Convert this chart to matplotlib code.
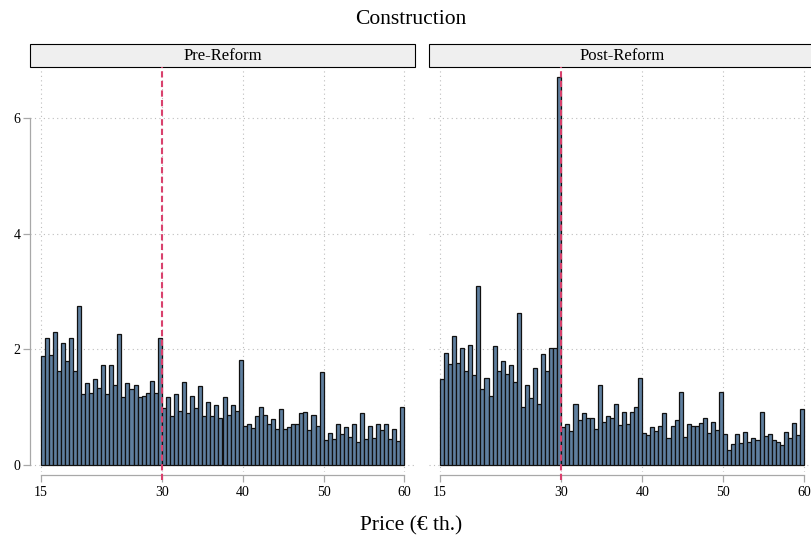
import numpy as np
import matplotlib
matplotlib.use("Agg")
import matplotlib.pyplot as plt
from matplotlib.patches import Rectangle

# bins of 0.5 from 15 to 60
bin_start = 15
bin_width = 0.5

pre = [1.88, 2.19, 1.90, 2.30, 1.62, 2.10, 1.80, 2.19, 1.62, 2.74,
       1.23, 1.41, 1.25, 1.48, 1.33, 1.72, 1.23, 1.72, 1.39, 2.26,
       1.17, 1.41, 1.31, 1.39, 1.17, 1.20, 1.25, 1.46, 1.25, 2.19,
       0.99, 1.18, 0.85, 1.22, 0.94, 1.44, 0.89, 1.20, 0.99, 1.37,
       0.84, 1.08, 0.84, 1.04, 0.82, 1.17, 0.86, 1.03, 0.94, 1.81,
       0.68, 0.71, 0.64, 0.85, 1.01, 0.86, 0.71, 0.80, 0.63, 0.97,
       0.63, 0.66, 0.71, 0.71, 0.89, 0.92, 0.60, 0.87, 0.68, 1.60,
       0.43, 0.56, 0.45, 0.70, 0.54, 0.66, 0.48, 0.70, 0.39, 0.90,
       0.45, 0.68, 0.47, 0.71, 0.61, 0.71, 0.45, 0.63, 0.41, 1.01]

post = [1.48, 1.94, 1.74, 2.23, 1.77, 2.03, 1.62, 2.08, 1.55, 3.10,
        1.32, 1.50, 1.19, 2.05, 1.62, 1.79, 1.58, 1.72, 1.43, 2.63,
        1.01, 1.39, 1.15, 1.67, 1.06, 1.92, 1.62, 2.03, 2.03, 6.70,
        0.66, 0.70, 0.58, 1.05, 0.78, 0.89, 0.81, 0.82, 0.63, 1.39,
        0.74, 0.84, 0.82, 1.05, 0.69, 0.92, 0.70, 0.92, 1.01, 1.50,
        0.56, 0.52, 0.65, 0.58, 0.67, 0.89, 0.47, 0.67, 0.77, 1.26,
        0.48, 0.70, 0.67, 0.67, 0.73, 0.82, 0.55, 0.75, 0.60, 1.26,
        0.54, 0.26, 0.36, 0.54, 0.38, 0.57, 0.40, 0.46, 0.44, 0.92,
        0.50, 0.54, 0.43, 0.39, 0.35, 0.57, 0.46, 0.73, 0.52, 0.96]

panels = ["Pre-Reform", "Post-Reform"]
xticks = [15, 30, 40, 50, 60]
yticks = [0, 2, 4, 6]
cutoff = 30

plt.rcParams['font.family'] = ['Liberation Serif', 'DejaVu Serif']

W, H = 812, 536
fig = plt.figure(figsize=(W / 100, H / 100), dpi=100)

top_px, bot_px = 67, 471.9
ax_h = (bot_px - top_px) / H
ax_b = (H - bot_px) / H
lefts = [30, 429.5]
ax_w = 385 / W

for k, (name, vals) in enumerate(zip(panels, [pre, post])):
    ax = fig.add_axes([lefts[k] / W, ax_b, ax_w, ax_h])
    edges = bin_start + bin_width * np.arange(len(vals))
    ax.bar(edges, vals, width=bin_width, align='edge',
           color='#5f7f9f', edgecolor='#111111', linewidth=0.9, zorder=2)
    ax.axvline(cutoff, ymin=-0.02, ymax=1, color='#d9416d', lw=1.5,
               linestyle=(0, (3, 1.6)), clip_on=False, zorder=3)
    ax.set_xlim(13.7, 61.3)
    ax.set_ylim(-0.12, 6.88)
    ax.set_xticks(xticks)
    ax.set_yticks(yticks)
    ax.grid(True, linestyle=(0, (1, 3)), color='#bdbdbd', linewidth=0.8)
    ax.set_axisbelow(True)
    for s in ['top', 'right']:
        ax.spines[s].set_visible(False)
    ax.spines['bottom'].set_position(('outward', 2.3))
    ax.spines['bottom'].set_bounds(15, 60)
    ax.spines['bottom'].set_color('#a8a8a8')
    ax.spines['bottom'].set_linewidth(0.9)
    ax.tick_params(axis='x', colors='#a8a8a8', length=5, width=0.9,
                   labelcolor='black', labelsize=10, pad=3)
    if k == 0:
        ax.spines['left'].set_bounds(0, 6)
        ax.spines['left'].set_color('#a8a8a8')
        ax.spines['left'].set_linewidth(0.9)
        ax.tick_params(axis='y', colors='#a8a8a8', length=5, width=0.9,
                       labelcolor='black', labelsize=10, pad=2)
    else:
        ax.spines['left'].set_visible(False)
        ax.tick_params(axis='y', left=False, labelleft=False)

    # facet strip
    sh = 23 / (bot_px - top_px)
    ax.add_patch(Rectangle((0, 1.0), 1, sh, transform=ax.transAxes,
                           facecolor='#efefef', edgecolor='black',
                           linewidth=0.8, clip_on=False))
    ax.text(0.5, 1 + sh / 2, name, transform=ax.transAxes,
            ha='center', va='center', fontsize=12)

fig.text(411 / W, 1 - 20 / H, "Construction", ha='center', va='center', fontsize=15.5)
fig.text(411 / W, 1 - 526 / H, "Price (€ th.)", ha='center', va='center', fontsize=15.5)

fig.savefig("out.png", dpi=100)
